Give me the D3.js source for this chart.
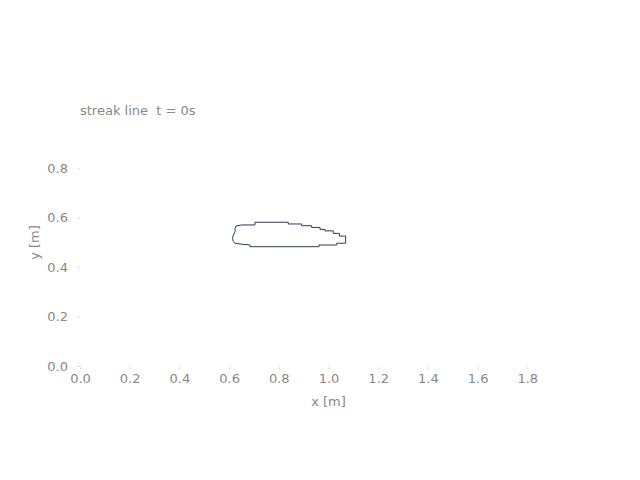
<!DOCTYPE html>
<html>
<head>
<meta charset="utf-8">
<script src="https://cdn.jsdelivr.net/npm/d3@7"></script>
<style>
  body { margin: 0; background: #fff; }
  text { font-family: "DejaVu Sans", sans-serif; white-space: pre; }
</style>
</head>
<body>
<svg width="640" height="480"></svg>
<script>
// streak line outline at t = 0s (x, y in metres)
var outlineX = [0.624, 0.628, 0.651, 0.704, 0.704, 0.838, 0.838, 0.892, 0.892, 0.932, 0.932, 0.966, 0.966,
                0.986, 0.986, 1.019, 1.019, 1.044, 1.044, 1.069, 1.069, 1.033, 1.033, 0.962, 0.962, 0.684,
                0.684, 0.651, 0.624, 0.617, 0.614, 0.617, 0.624];
var outlineY = [0.557, 0.567, 0.571, 0.571, 0.582, 0.582, 0.575, 0.575, 0.568, 0.568, 0.561, 0.561, 0.553,
                0.553, 0.547, 0.547, 0.537, 0.537, 0.526, 0.526, 0.497, 0.497, 0.490, 0.490, 0.483, 0.483,
                0.490, 0.493, 0.497, 0.503, 0.517, 0.530, 0.544];
var xTicks = [0.0, 0.2, 0.4, 0.6, 0.8, 1.0, 1.2, 1.4, 1.6, 1.8];
var yTicks = [0.0, 0.2, 0.4, 0.6, 0.8];
var titleText = "streak line  t = 0s";

var svg = d3.select("svg");

var x = d3.scaleLinear()
    .domain([0, 2])
    .range([80, 577]);

var y = d3.scaleLinear()
    .domain([0, 1])
    .range([366, 119]);

var points = outlineX.map(function(d, i) { return [d, outlineY[i]]; });

// x axis
var gx = svg.append("g")
    .attr("transform", "translate(0," + y(0) + ")")
    .call(d3.axisBottom(x).tickValues(xTicks).tickFormat(d3.format(".1f")).tickSize(3).tickPadding(5));
gx.select(".domain").remove();

// y axis
var gy = svg.append("g")
    .attr("transform", "translate(" + x(0) + ",0)")
    .call(d3.axisLeft(y).tickValues(yTicks).tickFormat(d3.format(".1f")).tickSize(3).tickPadding(9));
gy.select(".domain").remove();

svg.selectAll(".tick line").attr("stroke", "#ccc").attr("stroke-dasharray", "1,1");
svg.selectAll(".tick text")
    .attr("fill", "#888")
    .style("font-size", "13px")
    .style("font-family", "DejaVu Sans, sans-serif");

svg.append("text")
    .attr("x", 80)
    .attr("y", 115)
    .attr("fill", "#888")
    .style("font-size", "13px")
    .text(titleText);

svg.append("text")
    .attr("x", (x(0) + x(2)) / 2)
    .attr("y", 406)
    .attr("text-anchor", "middle")
    .attr("fill", "#888")
    .style("font-size", "13px")
    .text("x [m]");

svg.append("text")
    .attr("transform", "translate(39," + (y(0) + y(1)) / 2 + ") rotate(-90)")
    .attr("text-anchor", "middle")
    .attr("fill", "#888")
    .style("font-size", "13px")
    .text("y [m]");

var line = d3.line()
    .x(function(d) { return x(d[0]); })
    .y(function(d) { return y(d[1]); })
    .curve(d3.curveLinearClosed);

svg.append("path")
    .datum(points)
    .attr("fill", "none")
    .attr("stroke", "#2c3e50")
    .attr("stroke-width", 1)
    .attr("stroke-linejoin", "round")
    .attr("d", line);
</script>
</body>
</html>
